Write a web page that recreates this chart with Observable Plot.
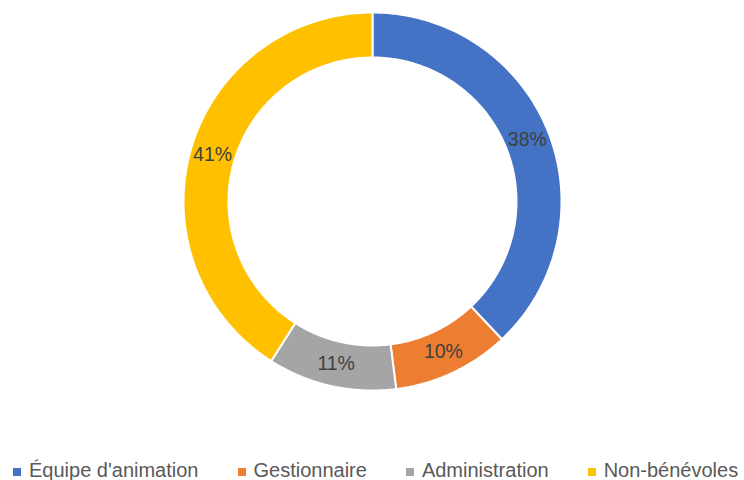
<!DOCTYPE html>
<html>
<head>
<meta charset="utf-8">
<script src="https://cdn.jsdelivr.net/npm/d3@7"></script>
<script src="https://cdn.jsdelivr.net/npm/@observablehq/plot@0.6"></script>
<style>
  html, body { margin: 0; padding: 0; background: #fff; }
  #chart svg { display: block; }
  .legend { display: flex; gap: 39px; padding-left: 13px; height: 25px; margin-top: 3px; align-items: center;
            font-family: "Liberation Sans", Arial, sans-serif; font-size: 20px; color: #595959; white-space: nowrap; }
  .legend .item { display: flex; align-items: center; }
  .legend .sw { width: 8px; height: 8px; margin-right: 8px; margin-top: 3px; }
</style>
</head>
<body>
<div id="chart"></div>
<div class="legend" id="legend"></div>
<script>
const categories = ["Équipe d'animation", "Gestionnaire", "Administration", "Non-bénévoles"];
const values = [38, 10, 11, 41];
const labels = ["38%", "10%", "11%", "41%"];
const colors = ["#4472C4", "#ED7D31", "#A5A5A5", "#FFC000"];

const innerRatio = 144 / 189;
const arcs = d3.pie().sort(null).value(d => d)(values);

const ringRows = [];
arcs.forEach((a, i) => {
  const n = 120;
  const pts = [];
  for (let k = 0; k <= n; k++) {
    const t = a.startAngle + (a.endAngle - a.startAngle) * k / n;
    pts.push([Math.sin(t), Math.cos(t)]);
  }
  for (let k = n; k >= 0; k--) {
    const t = a.startAngle + (a.endAngle - a.startAngle) * k / n;
    pts.push([Math.sin(t) * innerRatio, Math.cos(t) * innerRatio]);
  }
  pts.push(pts[0]);
  pts.forEach(([x, y]) => ringRows.push({cat: categories[i], x, y}));
});

const midR = (1 + innerRatio) / 2;
const labelRows = arcs.map((a, i) => {
  const t = (a.startAngle + a.endAngle) / 2;
  return {label: labels[i], x: Math.sin(t) * midR, y: Math.cos(t) * midR};
});

const W = 744, H = 455;
const chart = Plot.plot({
  width: W,
  height: H,
  marginLeft: 183,
  marginRight: 183,
  marginTop: 12,
  marginBottom: 65,
  x: {domain: [-1, 1], axis: null},
  y: {domain: [-1, 1], axis: null},
  color: {domain: categories, range: colors},
  style: {fontFamily: "'Liberation Sans', Arial, sans-serif", background: "#fff"},
  marks: [
    Plot.line(ringRows, {x: "x", y: "y", z: "cat", fill: "cat", stroke: "white", strokeWidth: 2, strokeLinejoin: "miter", curve: "linear"}),
    Plot.text(labelRows, {x: "x", y: "y", text: "label", fontSize: 19.5, fill: "#404040"})
  ]
});
document.getElementById("chart").appendChild(chart);

const legend = document.getElementById("legend");
categories.forEach((c, i) => {
  const item = document.createElement("div");
  item.className = "item";
  const sw = document.createElement("span");
  sw.className = "sw";
  sw.style.background = colors[i];
  const tx = document.createElement("span");
  tx.textContent = c;
  item.appendChild(sw);
  item.appendChild(tx);
  legend.appendChild(item);
});
</script>
</body>
</html>
